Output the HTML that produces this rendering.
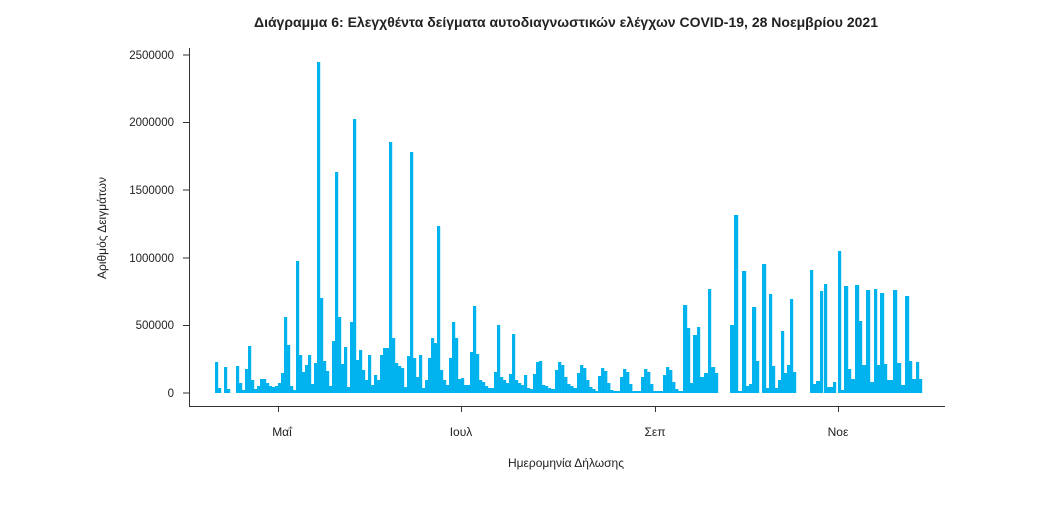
<!DOCTYPE html>
<html><head><meta charset="utf-8"><style>
body{margin:0;background:#fff;width:1046px;height:500px;overflow:hidden}
text{font-family:"Liberation Sans","DejaVu Sans",sans-serif;fill:#222}
</style></head><body>
<svg id="s" width="1046" height="500" xmlns="http://www.w3.org/2000/svg">
<text x="566" y="27" text-anchor="middle" font-size="14" font-weight="bold">Διάγραμμα 6: Ελεγχθέντα δείγματα αυτοδιαγνωστικών ελέγχων COVID-19, 28 Νοεμβρίου 2021</text>
<line x1="189.5" y1="48" x2="189.5" y2="406.5" stroke="#333" stroke-width="1"/>
<line x1="189" y1="406.5" x2="945" y2="406.5" stroke="#333" stroke-width="1"/>
<g font-size="11.5" text-anchor="end">
<text x="174" y="59">2500000</text><text x="174" y="126">2000000</text><text x="174" y="194">1500000</text><text x="174" y="262">1000000</text><text x="174" y="329">500000</text><text x="174" y="397">0</text>
</g>
<g stroke="#333"><line x1="183" y1="55" x2="189" y2="55"/><line x1="183" y1="122.5" x2="189" y2="122.5"/><line x1="183" y1="190" x2="189" y2="190"/><line x1="183" y1="258" x2="189" y2="258"/><line x1="183" y1="325.5" x2="189" y2="325.5"/><line x1="183" y1="393" x2="189" y2="393"/>
<line x1="278.5" y1="406" x2="278.5" y2="412"/><line x1="461.5" y1="406" x2="461.5" y2="412"/><line x1="655.5" y1="406" x2="655.5" y2="412"/><line x1="838.5" y1="406" x2="838.5" y2="412"/></g>
<g font-size="12" text-anchor="middle"><text x="282" y="436">Μαΐ</text><text x="461" y="436">Ιουλ</text><text x="655" y="436">Σεπ</text><text x="838" y="436">Νοε</text></g>
<text x="566" y="467" text-anchor="middle" font-size="12">Ημερομηνία Δήλωσης</text>
<text transform="translate(106,228) rotate(-90)" text-anchor="middle" font-size="12">Αριθμός Δειγμάτων</text>
<g id="b" fill="#00b2ee"></g>
</svg>
<script>
var d=[[215,362],[218,388],[221,393],[224,367],[227,389],[230,393],[233,393],[236,366],[239,383],[242,390],[245,369],[248,346],[251,380],[254,389],[257,386],[260,379],[263,379],[266,383],[269,386],[272,387],[275,386],[278,383],[281,373],[284,317],[287,345],[290,386],[293,390],[296,261],[299,355],[302,372],[305,365],[308,355],[311,384],[314,363],[317,62],[320,298],[323,361],[326,371],[329,386],[332,341],[335,172],[338,317],[341,364],[344,347],[347,387],[350,322],[353,119],[356,360],[359,350],[362,370],[365,380],[368,355],[371,385],[374,375],[377,380],[380,355],[383,348],[386,348],[389,142],[392,338],[395,363],[398,366],[401,368],[404,387],[407,356],[410,152],[413,358],[416,377],[419,355],[422,388],[425,380],[428,358],[431,338],[434,343],[437,226],[440,370],[443,380],[446,385],[449,358],[452,322],[455,338],[458,379],[461,378],[464,385],[467,385],[470,352],[473,306],[476,354],[479,380],[482,382],[485,386],[488,388],[491,388],[494,372],[497,325],[500,377],[503,380],[506,383],[509,374],[512,334],[515,380],[518,383],[521,385],[524,375],[527,388],[530,389],[533,374],[536,362],[539,361],[542,385],[545,386],[548,388],[551,389]];
var humps=[[555,362],[577,365],[598,368],[620,369],[641,369],[663,367]];
humps.forEach(function(h){var t=h[1];var p=[t+8,t,t+3,t+15,t+22,t+24,t+26];for(var i=0;i<7;i++)d.push([h[0]+i*3.05,Math.min(p[i],391)]);});
d=d.concat([[683,305],[687,328],[690,383],[693,335],[697,327],[700,377],[704,373],[708,289],[711,367],[715,373],[718,393],[722,393],[726,393],[730,325],[734,215],[738,391],[742,271],[746,386],[749,384],[752,307],[756,361],[759,393],[762,264],[766,388],[769,294],[772,366],[775,388],[778,380],[781,331],[784,373],[787,365],[790,299],[793,372],[796,393],[800,393],[804,393],[807,393],[810,270],[813,384],[816,381],[820,291],[823,393],[824,284],[827,387],[830,387],[833,382],[838,251],[841,390],[844,286],[848,369],[851,379],[855,285],[859,321],[862,365],[866,290],[870,382],[874,289],[877,365],[880,293],[884,364],[887,380],[890,380],[893,290],[897,363],[901,385],[905,296],[909,361],[912,379],[916,362],[919,379]]);
d.sort(function(a,b){return a[0]-b[0]});
var g=document.getElementById('b'),s='';
for(var i=0;i<d.length;i++){var x=d[i][0],w=(i<d.length-1?d[i+1][0]-x:3);if(w>4)w=3;var t=d[i][1];if(t<393)s+='<rect x="'+x+'" y="'+t+'" width="'+(w+0.2)+'" height="'+(393-t)+'"/>';}
g.innerHTML=s;
</script>
</body></html>
